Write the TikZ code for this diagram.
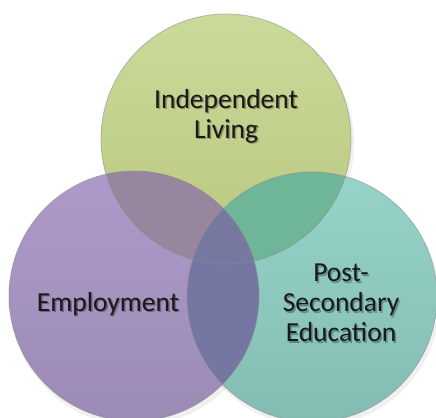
\documentclass[tikz,border=0pt]{standalone}
\usepackage{fontspec}
\setmainfont{Carlito}
\begin{document}
\begin{tikzpicture}[x=1bp,y=-1bp,
  lbl/.style={align=center,text=black!90,font=\fontsize{27.5bp}{30bp}\selectfont,inner sep=0pt},
  shd/.style={align=center,text=black,opacity=0.3,font=\fontsize{27.5bp}{30bp}\selectfont,inner sep=0pt},
  rim/.style={draw=black!45,line width=0.8bp,draw opacity=0.55}]
\definecolor{gTop}{HTML}{CADA9A}
\definecolor{gBot}{HTML}{B9C77E}
\definecolor{pTop}{HTML}{AE9ACA}
\definecolor{pBot}{HTML}{9C8BB5}
\definecolor{tTop}{HTML}{96D3C9}
\definecolor{tBot}{HTML}{84BCB3}
\definecolor{pg}{HTML}{97869D}
\definecolor{gt}{HTML}{6EB697}
\definecolor{pt}{HTML}{7577A2}
\definecolor{pgt}{HTML}{7678A0}
\useasboundingbox (0,0) rectangle (436,417);
\fill[white] (0,0) rectangle (436,417);
\coordinate (cg) at (226,139);
\coordinate (cp) at (134,296);
\coordinate (ct) at (312,297);
\def\R{125}
% soft shadows
\foreach \c in {cg,cp,ct}{\fill[black,opacity=0.06] ([shift={(2,4)}]\c) circle (\R+1);}
% main discs
\shade[top color=gTop,bottom color=gBot] (cg) circle (\R);
\shade[top color=pTop,bottom color=pBot] (cp) circle (\R);
\shade[top color=tTop,bottom color=tBot] (ct) circle (\R);
% pairwise overlaps
\begin{scope}\clip (cg) circle (\R); \fill[pg] (cp) circle (\R);\end{scope}
\begin{scope}\clip (cg) circle (\R); \fill[gt] (ct) circle (\R);\end{scope}
\begin{scope}\clip (cp) circle (\R); \fill[pt] (ct) circle (\R);\end{scope}
\begin{scope}\clip (cg) circle (\R); \clip (cp) circle (\R); \fill[pgt] (ct) circle (\R);\end{scope}
% rims
\draw[rim] (cg) circle (\R);
\draw[rim] (cp) circle (\R);
\draw[rim] (ct) circle (\R);
% labels
\node[shd] at (227.5,117.5) {Independent\\Living};
\node[lbl] (il) at (226,116) {Independent\\Living};
\node[shd] at (109.5,305.5) {Employment};
\node[lbl] (em) at (108,304) {Employment};
\node[shd] at (342.5,304.5) {Post-\\Secondary\\Education};
\node[lbl] (ps) at (341,303) {Post-\\Secondary\\Education};
\end{tikzpicture}
\end{document}
